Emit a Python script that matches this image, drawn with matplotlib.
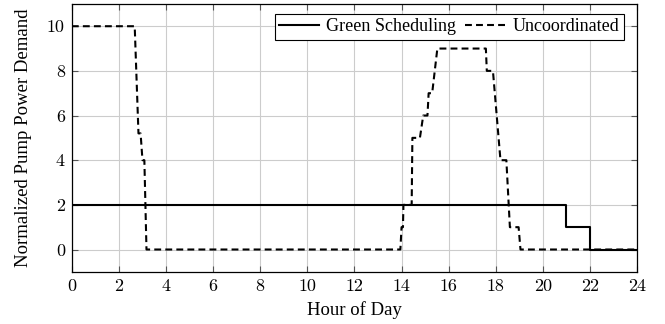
import matplotlib.pyplot as plt
import numpy as np

# Green scheduling: flat demand with a two-step ramp down at night
green_hour = [0, 21, 21, 22, 22, 24]
green_demand = [2, 2, 1, 1, 0, 0]

# Uncoordinated pumps: morning drop and afternoon peak
uncoord_hour = [0, 2.67, 2.83, 2.92, 3.0, 3.08, 3.17, 13.95, 14.0, 14.06, 14.08,
                14.43, 14.46, 14.78, 14.92, 15.1, 15.15, 15.3, 15.52, 15.62,
                17.58, 17.62, 17.88, 18.2, 18.45, 18.6, 18.97, 19.05, 24]
uncoord_demand = [10, 10, 5.2, 5.2, 4.0, 4.0, 0, 0, 1.0, 1.0, 2.0,
                  2.0, 5.0, 5.0, 6.0, 6.0, 7.0, 7.0, 9.0, 9.0,
                  9.0, 8.0, 8.0, 4.0, 4.0, 1.0, 1.0, 0, 0]

xticks = np.arange(0, 25, 2)
yticks = np.arange(0, 11, 2)

plt.rcParams['font.family'] = ['Liberation Serif', 'DejaVu Serif']

fig = plt.figure(figsize=(6.65, 3.24), dpi=100)
ax = fig.add_axes([0.108, 0.161, 0.850, 0.827])

ax.plot(green_hour, green_demand, color='black', lw=1.5, label='Green Scheduling')
ax.plot(uncoord_hour, uncoord_demand, color='black', lw=1.5,
        linestyle=(0, (3.3, 2.0)), label='Uncoordinated')

ax.set_xlim(0, 24)
ax.set_ylim(-1, 11)
ax.set_xticks(xticks)
ax.set_yticks(yticks)
ax.grid(True, color='#cccccc', lw=0.8)
ax.set_axisbelow(True)

ax.tick_params(direction='in', top=True, right=True, length=4, width=0.8,
               color='#555555', labelsize=13, pad=5)
for lab in ax.get_xticklabels() + ax.get_yticklabels():
    lab.set_family('cmr10')
for sp in ax.spines.values():
    sp.set_linewidth(0.9)

ax.set_xlabel('Hour of Day', fontsize=13.5, labelpad=5)
ax.set_ylabel('Normalized Pump Power Demand', fontsize=13.5, labelpad=11)

leg = ax.legend(loc='upper right', ncol=2, fontsize=13, frameon=True,
                fancybox=False, edgecolor='black', framealpha=1,
                handlelength=2.2, handletextpad=0.4, columnspacing=0.5,
                borderpad=0.25, bbox_to_anchor=(0.992, 0.997))
leg.get_frame().set_linewidth(0.8)

plt.savefig('out.png', dpi=100)
